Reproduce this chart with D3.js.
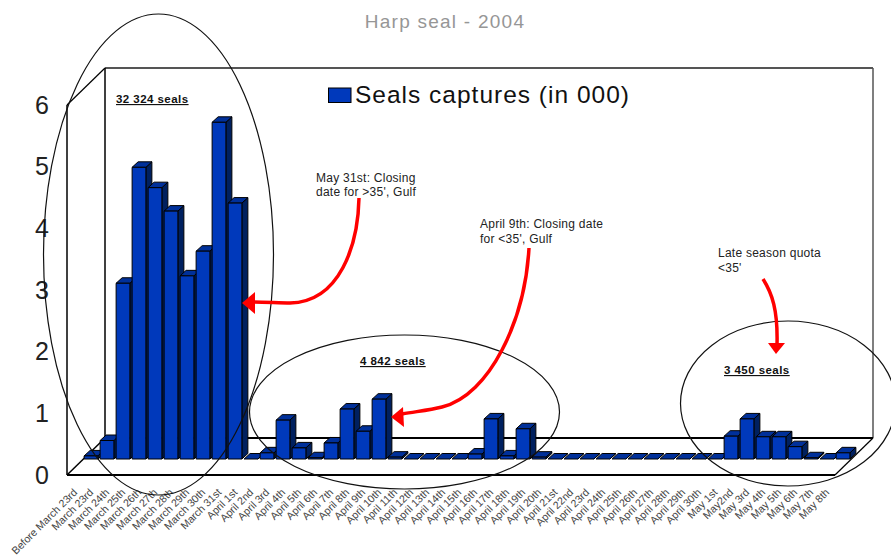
<!DOCTYPE html>
<html lang="en">
<head>
  <meta charset="UTF-8" />
  <title>Harp seal - 2004</title>
  <script src="https://d3js.org/d3.v7.min.js"></script>
  <style>
    body { margin: 0; padding: 0; background: #fff; font-family: "Liberation Sans", Arial, sans-serif; }
    svg { display: block; }
    text { font-family: "Liberation Sans", Arial, sans-serif; }
  </style>
</head>
<body>
  <div id="chart"></div>
  <script>
    const categories = [
      "Before March 23rd", "March 23rd", "March 24th", "March 25th", "March 26th", "March 27th",
      "March 28th", "March 29th", "March 30th", "March 31st", "April 1st", "April 2nd", "April 3rd",
      "April 4th", "April 5th", "April 6th", "April 7th", "April 8th", "April 9th", "April 10th",
      "April 11th", "April 12th", "April 13th", "April 14th", "April 15th", "April 16th", "April 17th",
      "April 18th", "April 19th", "April 20th", "April 21st", "April 22nd", "April 23rd", "April 24th",
      "April 25th", "April 26th", "April 27th", "April 28th", "April 29th", "April 30th", "May 1st",
      "May2nd", "May 3rd", "May 4th", "May 5th", "May 6th", "May 7th", "May 8th"
    ];
    const captures = [
      0.05, 0.30, 2.85, 4.73, 4.40, 4.02, 2.97, 3.37, 5.46, 4.15,
      0.00, 0.10, 0.63, 0.18, 0.02, 0.26, 0.81, 0.45, 0.97, 0.03,
      0.00, 0.00, 0.00, 0.00, 0.08, 0.65, 0.05, 0.49, 0.03, 0.00,
      0.00, 0.00, 0.00, 0.00, 0.00, 0.00, 0.00, 0.00, 0.00, 0.00,
      0.37, 0.65, 0.36, 0.36, 0.20, 0.02, 0.00, 0.10
    ];
    const yTicks = [0, 1, 2, 3, 4, 5, 6];

    const width = 891, height = 556;
    const svg = d3.select("#chart").append("svg").attr("width", width).attr("height", height);

    // 3d box
    const floorY = 475, topY = 105, left = 67, right = 835, depth = [38, -37];
    const barDepth = [6, -5.5];

    const x = d3.scaleBand().domain(categories).range([83, 851]).paddingInner(0.14).paddingOuter(0.07);
    const xLabel = d3.scaleBand().domain(categories).range([left, right]);
    const y = d3.scaleLinear().domain([0, 6]).range([floorY, topY]);
    const yBar = d3.scaleLinear().domain([0, 6]).range([floorY - 16, topY - 16]);

    const walls = svg.append("g").attr("fill", "none").attr("stroke", "#000");
    const line = (x1, y1, x2, y2, w, c) => walls.append("line")
      .attr("x1", x1).attr("y1", y1).attr("x2", x2).attr("y2", y2)
      .attr("stroke-width", w).attr("stroke", c || "#000");
    line(left + depth[0], topY + depth[1], right + depth[0], topY + depth[1], 2, "#555");
    line(right + depth[0], topY + depth[1], right + depth[0], floorY + depth[1], 1.5, "#555");
    line(left + depth[0], topY + depth[1], left + depth[0], floorY + depth[1], 1.5);
    line(left + depth[0], floorY + depth[1], right + depth[0], floorY + depth[1], 2);
    line(left, topY, left + depth[0], topY + depth[1], 1.2);
    line(left, topY, left, floorY, 1.5);
    line(left, floorY, left + depth[0], floorY + depth[1], 1.5);
    line(left, floorY, right, floorY, 2);
    line(right, floorY, right + depth[0], floorY + depth[1], 1.2);

    // bars, left to right
    const bars = svg.append("g").attr("stroke", "#000").attr("stroke-width", 1).attr("stroke-linejoin", "round")
      .selectAll("g").data(categories).enter().append("g");
    const [dx, dy] = barDepth;
    bars.append("path").attr("fill", "#00205f").attr("d", (d, i) => {
      const r = x(d) + x.bandwidth(), t = yBar(captures[i]), b = yBar(0);
      return `M${r},${t}L${r + dx},${t + dy}L${r + dx},${b + dy}L${r},${b}Z`;
    });
    bars.append("path").attr("fill", "#00309a").attr("d", (d, i) => {
      const l = x(d), r = l + x.bandwidth(), t = yBar(captures[i]);
      return `M${l},${t}L${l + dx},${t + dy}L${r + dx},${t + dy}L${r},${t}Z`;
    });
    bars.append("rect").attr("fill", "#0039bb")
      .attr("x", d => x(d)).attr("width", x.bandwidth())
      .attr("y", (d, i) => yBar(captures[i]))
      .attr("height", (d, i) => yBar(0) - yBar(captures[i]));

    // y axis
    const yAxis = svg.append("g").attr("transform", `translate(${left},0)`)
      .call(d3.axisLeft(y).tickValues(yTicks).tickSize(0).tickPadding(18).tickFormat(d3.format("d")));
    yAxis.select(".domain").remove();
    yAxis.selectAll("text").attr("font-size", 25).attr("fill", "#222").style("font-family", "'Liberation Sans'");

    // x axis, rotated labels
    const xAxis = svg.append("g").attr("transform", `translate(0,${floorY})`)
      .call(d3.axisBottom(xLabel).tickSize(0).tickFormat(d => d));
    xAxis.select(".domain").remove();
    xAxis.selectAll("text")
      .attr("font-size", 10.6).attr("fill", "#444").attr("text-anchor", "end")
      .attr("x", 0).attr("y", 0).attr("dy", 0)
      .style("font-family", "'Liberation Sans'")
      .attr("transform", "translate(3,18) rotate(-45)");

    // title + legend
    svg.append("text").attr("x", 445).attr("y", 28).attr("text-anchor", "middle")
      .attr("font-size", 19).attr("letter-spacing", 1.25).attr("fill", "#969696").text("Harp seal - 2004");
    svg.append("rect").attr("x", 328.5).attr("y", 88).attr("width", 22.5).attr("height", 14.5)
      .attr("fill", "#0039bb").attr("stroke", "#000");
    svg.append("text").attr("x", 355).attr("y", 103).attr("font-size", 24.5).attr("letter-spacing", 1)
      .attr("fill", "#111").text("Seals captures (in 000)");

    // totals
    const totals = [["32 324 seals", 116, 103], ["4 842 seals", 360, 365], ["3 450 seals", 724, 374]];
    svg.append("g").selectAll("text").data(totals).enter().append("text")
      .attr("x", d => d[1]).attr("y", d => d[2])
      .attr("font-size", 11.5).attr("font-weight", "bold").attr("letter-spacing", 0.45)
      .attr("text-decoration", "underline")
      .attr("fill", "#111").text(d => d[0]);

    // notes
    const notes = [
      ["May 31st: Closing", 316, 182], ["date for >35', Gulf", 316, 196],
      ["April 9th: Closing date", 480, 228], ["for <35', Gulf", 480, 243],
      ["Late season quota", 718, 257], ["<35'", 718, 272]
    ];
    svg.append("g").selectAll("text").data(notes).enter().append("text")
      .attr("x", d => d[1]).attr("y", d => d[2])
      .attr("font-size", 12).attr("letter-spacing", 0.25).attr("fill", "#222").text(d => d[0]);

    // circled periods
    const ellipses = [[158.5, 254.5, 115, 240.5], [404.5, 412, 155, 77], [788, 403.5, 107.5, 82.5]];
    svg.append("g").selectAll("ellipse").data(ellipses).enter().append("ellipse")
      .attr("cx", d => d[0]).attr("cy", d => d[1]).attr("rx", d => d[2]).attr("ry", d => d[3])
      .attr("fill", "none").attr("stroke", "#111").attr("stroke-width", 1.2);

    // red arrows
    const arrows = [
      { d: "M359,198C358,245 340,302 290,303C280,303 265,302 253,302", head: "242,303 255,292 255,314" },
      { d: "M529,248C525,320 490,395 442,407C430,410 420,411 402,414", head: "391,417 403,407 404,427" },
      { d: "M763,279C772,293 778,310 777,345", head: "776,354 768,343 785,343" }
    ];
    svg.append("g").selectAll("path").data(arrows).enter().append("path")
      .attr("d", d => d.d).attr("fill", "none").attr("stroke", "#f00").attr("stroke-width", 3.5);
    svg.append("g").selectAll("polygon").data(arrows).enter().append("polygon")
      .attr("points", d => d.head).attr("fill", "#f00");
  </script>
</body>
</html>
